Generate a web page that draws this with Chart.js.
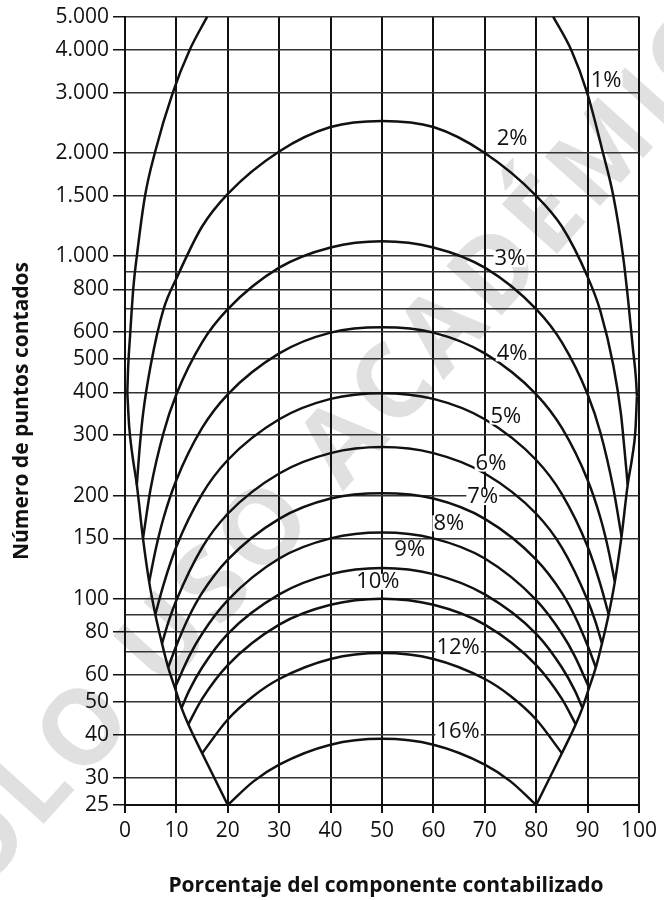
<!DOCTYPE html>
<html lang="es">
<head>
<meta charset="UTF-8">
<title>Número de puntos contados</title>
<script src="https://cdn.jsdelivr.net/npm/chart.js"></script>
<style>
  html, body { margin: 0; padding: 0; background: #fff; }
  #wrap { width: 664px; height: 900px; position: relative; }
</style>
</head>
<body>
<div id="wrap"><canvas id="chart"></canvas></div>
<script>
// horizontal gridlines of the log axis; some of them carry no label
const yGrid = [25, 30, 40, 50, 60, 70, 80, 90, 100, 150, 200, 300, 400, 500, 600, 700, 800, 900, 1000, 1500, 2000, 3000, 4000, 5000];
const yNoLabel = [70, 90, 700, 900];

// curves: [porcentaje, puntos]
const curve1Left = [[0.45, 400], [0.6, 470], [1.0, 590], [1.6, 800], [2.3, 1000], [3.9, 1500], [5.8, 2000], [9.3, 3000], [12.6, 4000], [16, 5000]];
const limitLeft = [[0.45, 400], [0.8, 320], [1.4, 265], [2.3, 215], [3.5, 150], [4.7, 112], [5.9, 90], [7.2, 74], [8.4, 63], [9.7, 55], [11, 48], [12.3, 43], [15, 35.4], [20, 25]];
const curve1Right = [[83.3, 5000], [86.8, 4000], [89.9, 3000], [93, 2000], [95, 1500], [96.9, 1000], [97.9, 740], [98.8, 540], [99.4, 440], [99.6, 390]];
const limitRight = [[80, 25], [85, 35.4], [87.7, 43], [89, 48], [90.3, 55], [91.6, 63], [92.8, 74], [94.1, 90], [95.3, 112], [96.6, 152], [97.8, 215], [98.7, 260], [99.3, 310], [99.6, 390]];

const curve2 = [[2.3, 215], [2.8, 270], [3.5, 345], [5, 480], [7.5, 700], [10, 860], [15, 1220], [20, 1520], [30, 2020], [40, 2380], [50, 2480], [60, 2380], [70, 2000], [80, 1500], [85, 1220], [90, 870], [92.5, 690], [95, 480], [96.5, 345], [97.2, 270], [97.8, 215]];
const curve3 = [[3.5, 150], [5, 210], [7.5, 305], [10, 395], [15, 560], [20, 700], [30, 925], [40, 1060], [50, 1105], [60, 1060], [70, 925], [80, 700], [85, 560], [90, 395], [92.5, 305], [95, 210], [96.6, 152]];
const curve4 = [[4.7, 112], [6, 140], [7.5, 172], [10, 222], [15, 315], [20, 395], [30, 520], [40, 598], [50, 620], [60, 598], [70, 520], [80, 395], [85, 315], [90, 222], [92.5, 172], [94, 140], [95.3, 112]];
const curve5 = [[5.9, 90], [7.5, 110], [10, 142], [15, 202], [20, 254], [30, 334], [40, 383], [50, 398], [60, 383], [70, 334], [80, 254], [85, 202], [90, 142], [92.5, 110], [94.1, 90]];
const curve6 = [[7.2, 74], [8.5, 86], [10, 99], [15, 141], [20, 177], [30, 232], [40, 266], [50, 277], [60, 266], [70, 232], [80, 177], [85, 141], [90, 99], [91.5, 86], [92.8, 74]];
const curve7 = [[8.4, 63], [10, 73], [12.5, 89], [15, 104], [20, 130], [30, 171], [40, 196], [50, 203], [60, 196], [70, 171], [80, 130], [85, 104], [87.5, 89], [90, 73], [91.6, 63]];
const curve8 = [[9.7, 55], [12.5, 68], [15, 79], [20, 99], [30, 131], [40, 150], [50, 156], [60, 150], [70, 131], [80, 99], [85, 79], [87.5, 68], [90.3, 55]];
const curve9 = [[11, 48], [12.5, 54], [15, 63], [20, 79], [30, 103], [40, 118], [50, 123], [60, 118], [70, 103], [80, 79], [85, 63], [87.5, 54], [89, 48]];
const curve10 = [[12.3, 43], [15, 51], [20, 64], [30, 84], [40, 96], [50, 100], [60, 96], [70, 84], [80, 64], [85, 51], [87.7, 43]];
const curve12 = [[15, 35.4], [20, 44.4], [25, 52], [30, 58.3], [40, 66.7], [50, 69.4], [60, 66.7], [70, 58.3], [75, 52], [80, 44.4], [85, 35.4]];
const curve16 = [[20, 25], [25, 29.3], [30, 32.8], [40, 37.5], [50, 39], [60, 37.5], [70, 32.8], [75, 29.3], [80, 25]];

// curve labels and where they sit
const curveLabels = ['1%', '2%', '3%', '4%', '5%', '6%', '7%', '8%', '9%', '10%', '12%', '16%'];
const labelPct = [93.6, 75.3, 74.9, 75.3, 74.1, 71.2, 69.6, 63.0, 55.4, 49.2, 64.8, 64.8];
const labelPts = [3250, 2200, 980, 520, 340, 248, 198, 166, 139, 112, 72, 41];

const curveSet = [curve1Left, limitLeft, curve1Right, limitRight, curve2, curve3, curve4, curve5, curve6, curve7, curve8, curve9, curve10, curve12, curve16];

function toXY(arr) {
  return arr.map(p => ({ x: p[0], y: p[1] }));
}

function fmt(v) {
  return String(v).replace(/\B(?=(\d{3})+(?!\d))/g, '.');
}

const INK = '#111';
const datasets = curveSet.map(c => ({
  data: toXY(c),
  showLine: true,
  cubicInterpolationMode: 'monotone',
  pointRadius: 0,
  borderColor: INK,
  borderWidth: 2.5,
  fill: false
}));

const watermark = {
  id: 'watermark',
  beforeDraw(chart) {
    const ctx = chart.ctx;
    ctx.save();
    ctx.fillStyle = '#e0e0e0';
    ctx.font = 'bold 104px "Open Sans"';
    ctx.letterSpacing = '6px';
    ctx.textAlign = 'center';
    ctx.textBaseline = 'middle';
    ctx.translate(345, 445);
    ctx.rotate(-48 * Math.PI / 180);
    ctx.fillText('SOLO USO ACADÉMICO', 0, 0);
    ctx.restore();
  }
};

const curveTags = {
  id: 'curveTags',
  afterDatasetsDraw(chart) {
    const ctx = chart.ctx;
    const xs = chart.scales.x, ys = chart.scales.y;
    ctx.save();
    ctx.font = '22px "Open Sans"';
    ctx.textAlign = 'center';
    ctx.textBaseline = 'middle';
    curveLabels.forEach((t, i) => {
      const px = xs.getPixelForValue(labelPct[i]);
      const py = ys.getPixelForValue(labelPts[i]);
      const w = ctx.measureText(t).width;
      ctx.fillStyle = '#fff';
      ctx.fillRect(px - w / 2 - 1, py - 8, w + 2, 16);
      ctx.fillStyle = INK;
      ctx.fillText(t, px, py);
    });
    ctx.restore();
  }
};

const axisTitles = {
  id: 'axisTitles',
  afterDraw(chart) {
    const ctx = chart.ctx;
    ctx.save();
    ctx.fillStyle = INK;
    ctx.font = 'bold 21px "Open Sans"';
    ctx.textAlign = 'center';
    ctx.textBaseline = 'middle';
    ctx.fillText('Porcentaje del componente contabilizado', 386, 886);
    ctx.translate(22, 411);
    ctx.rotate(-Math.PI / 2);
    ctx.fillText('Número de puntos contados', 0, 0);
    ctx.restore();
  }
};

new Chart(document.getElementById('chart'), {
  type: 'scatter',
  data: { datasets: datasets },
  options: {
    responsive: true,
    maintainAspectRatio: false,
    animation: false,
    layout: { padding: { top: 16, right: 25, left: 0, bottom: 0 } },
    plugins: { legend: { display: false }, tooltip: { enabled: false } },
    scales: {
      x: {
        type: 'linear',
        min: 0,
        max: 100,
        afterFit: s => { s.height = 95; },
        ticks: {
          stepSize: 10,
          padding: 5,
          color: INK,
          font: { family: 'Open Sans', size: 21 }
        },
        grid: { color: INK, lineWidth: 2, tickLength: 8 },
        border: { color: INK, width: 2 }
      },
      y: {
        type: 'logarithmic',
        min: 25,
        max: 5000,
        afterFit: s => { s.width = 125; },
        afterBuildTicks: s => { s.ticks = yGrid.map(v => ({ value: v })); },
        ticks: {
          padding: 4,
          color: INK,
          font: { family: 'Open Sans', size: 21 },
          callback: v => yNoLabel.includes(v) ? '' : fmt(v)
        },
        grid: {
          color: '#333',
          lineWidth: 1.5,
          tickLength: 12,
          tickColor: c => (c.tick && yNoLabel.includes(c.tick.value)) ? 'rgba(0,0,0,0)' : INK
        },
        border: { color: INK, width: 2 }
      }
    }
  },
  plugins: [watermark, curveTags, axisTitles]
});
</script>
</body>
</html>
